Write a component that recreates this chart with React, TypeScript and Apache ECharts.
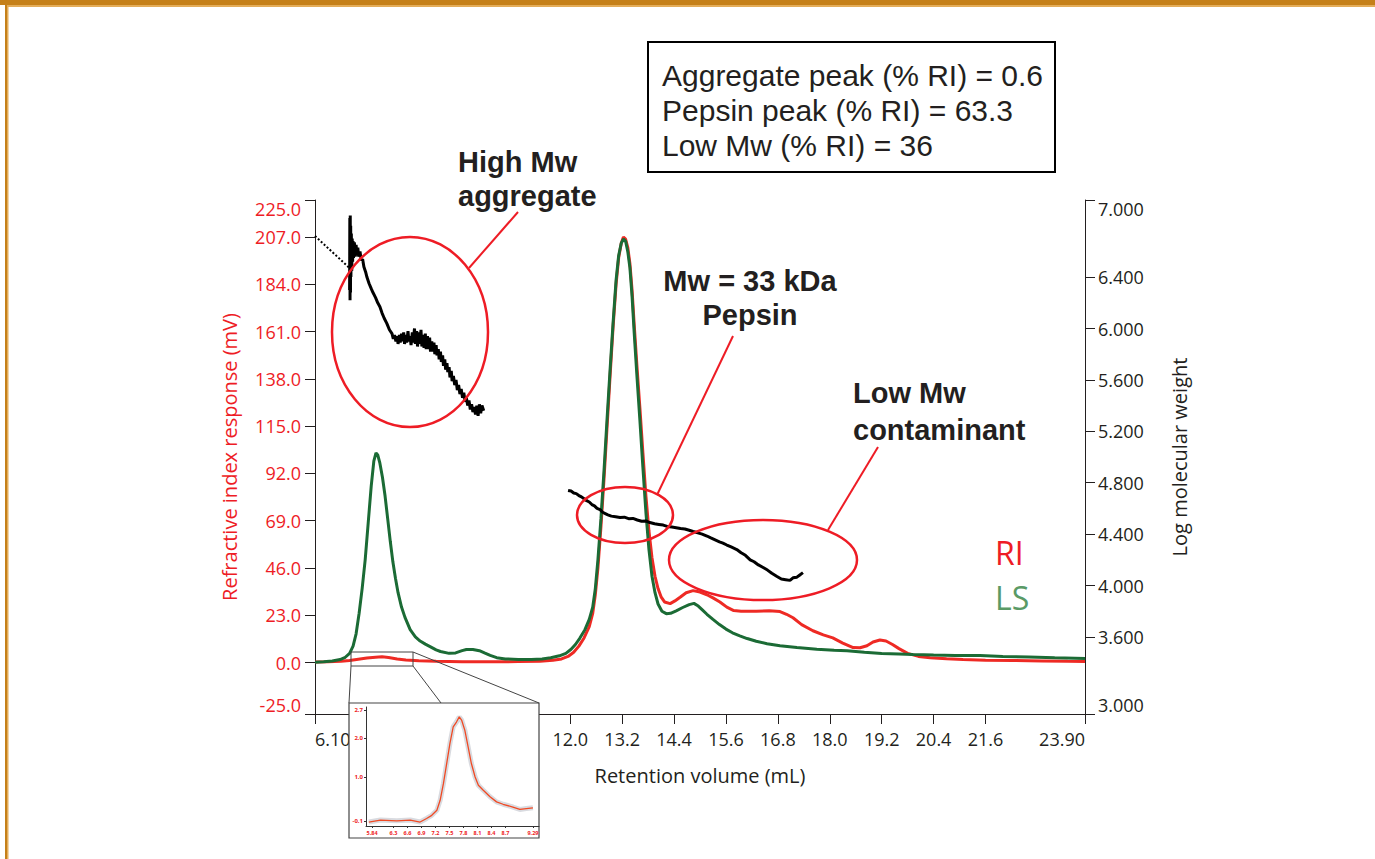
import React, { useEffect, useRef } from "react";
import * as echarts from "echarts";

// ---------- axis ticks ----------
const xTickValues = [6.1, 7.2, 8.4, 9.6, 10.8, 12.0, 13.2, 14.4, 15.6, 16.8, 18.0, 19.2, 20.4, 21.6, 23.9];
// labels 7.2 – 10.8 sit behind the inset in the original, so only the visible ones are written
const xLabelValues = [6.1, 12.0, 13.2, 14.4, 15.6, 16.8, 18.0, 19.2, 20.4, 21.6, 23.9];
const riTickValues = [-25, 0, 23, 46, 69, 92, 115, 138, 161, 184, 207, 225];
const mwTickValues = [3.0, 3.6, 4.0, 4.4, 4.8, 5.2, 5.6, 6.0, 6.4, 7.0];
const insetXTicks = [5.84, 6.0, 6.3, 6.6, 6.9, 7.2, 7.5, 7.8, 8.1, 8.4, 8.7, 9.29];
const insetYTicks = [-0.1, 1.0, 2.0, 2.7];

// ---------- series: [retention volume (mL), RI response (mV)] ----------
const riData = [
  [6.10, 0.3], [6.40, 0.4], [6.70, 0.6], [6.90, 1.0], [7.10, 1.6], [7.30, 2.2], [7.50, 2.6], [7.65, 2.8], [7.80, 2.5],
  [8.00, 1.8], [8.20, 1.3], [8.50, 0.9], [8.90, 0.6], [9.50, 0.4], [10.20, 0.4], [10.80, 0.5], [11.30, 0.7], [11.60, 1.1],
  [11.80, 1.8], [11.95, 3], [12.08, 5], [12.20, 8], [12.32, 12], [12.44, 17.5], [12.52, 24], [12.58, 33], [12.64, 46],
  [12.71, 66], [12.78, 89], [12.85, 114], [12.92, 139], [12.99, 163], [13.06, 184], [13.12, 197], [13.18, 204], [13.23, 207],
  [13.28, 206], [13.33, 202], [13.38, 194], [13.43, 181], [13.48, 164], [13.54, 145], [13.61, 124], [13.68, 102], [13.75, 81],
  [13.82, 64], [13.89, 51], [13.96, 42], [14.03, 36], [14.10, 32], [14.18, 29.5], [14.31, 28.7], [14.42, 30], [14.54, 31.8],
  [14.68, 34], [14.84, 35], [15.00, 34.3], [15.16, 33], [15.30, 31.5], [15.46, 29.5], [15.62, 27], [15.78, 25.3], [15.95, 25],
  [16.30, 25], [16.60, 25.2], [16.85, 24.8], [17.00, 23.5], [17.15, 21.8], [17.35, 18.5], [17.61, 15.5], [17.85, 13.5],
  [18.07, 12], [18.30, 9.5], [18.54, 7.3], [18.70, 7.2], [18.86, 8.2], [19.00, 10], [19.16, 11], [19.30, 10.5], [19.45, 8.8],
  [19.60, 6.8], [19.80, 4.5], [20.05, 3], [20.32, 2.4], [20.70, 1.9], [21.08, 1.5], [21.60, 1.2], [22.23, 1.0], [22.90, 0.8],
  [23.50, 0.6], [23.90, 0.5],
];

// [retention volume (mL), LS response (mV)]
const lsData = [
  [6.10, 0.2], [6.30, 0.4], [6.50, 0.8], [6.68, 1.5], [6.80, 2.6], [6.90, 4.5], [6.98, 8], [7.05, 14], [7.12, 24], [7.19, 36],
  [7.26, 50], [7.33, 68], [7.40, 86], [7.46, 98], [7.51, 102], [7.55, 101], [7.60, 97], [7.66, 90], [7.72, 81], [7.78, 70],
  [7.84, 59], [7.90, 49], [7.96, 41], [8.02, 34], [8.10, 27], [8.18, 22], [8.30, 16], [8.42, 12.5], [8.53, 10.5], [8.65, 9],
  [8.76, 7.8], [8.90, 6.2], [9.00, 5.4], [9.20, 4.5], [9.35, 4.7], [9.50, 5.8], [9.60, 6.4], [9.75, 6.4], [9.90, 5.8],
  [10.03, 4.6], [10.15, 3.5], [10.30, 2.4], [10.50, 1.8], [10.80, 1.5], [11.10, 1.5], [11.35, 1.8], [11.55, 2.4], [11.75, 3.3],
  [11.90, 4.5], [12.02, 6.5], [12.12, 8.8], [12.22, 11.8], [12.34, 16], [12.44, 21], [12.52, 27], [12.58, 36], [12.64, 50],
  [12.71, 70], [12.78, 93], [12.85, 118], [12.92, 142], [12.99, 165], [13.06, 186], [13.12, 198], [13.18, 204], [13.23, 206],
  [13.28, 205], [13.33, 200], [13.38, 192], [13.43, 178], [13.48, 160], [13.54, 140], [13.61, 118], [13.68, 95], [13.75, 73],
  [13.82, 55], [13.89, 42], [13.96, 34], [14.03, 28.5], [14.12, 25], [14.22, 23.8], [14.32, 24], [14.45, 25.2], [14.60, 26.8],
  [14.75, 28.2], [14.86, 28.8], [14.96, 27.5], [15.06, 25.5], [15.16, 23.5], [15.30, 21], [15.45, 18.5], [15.60, 16.3],
  [15.75, 14.5], [15.92, 13], [16.09, 11.7], [16.30, 10.4], [16.55, 9.2], [16.85, 8.2], [17.24, 7.3], [17.70, 6.5], [18.10, 6],
  [18.40, 5.8], [18.80, 5.0], [19.20, 4.4], [19.60, 4.2], [19.92, 3.9], [20.40, 3.7], [20.90, 3.5], [21.47, 3.4], [22.00, 3.0],
  [22.60, 2.7], [23.20, 2.3], [23.90, 2.0],
];

// [retention volume (mL), log molecular weight] — high Mw aggregate region
const mwAggregate = [
  [6.90, 6.30], [6.905, 6.86], [6.91, 6.22], [6.915, 6.88], [6.92, 6.28], [6.925, 6.80], [6.93, 6.40], [6.94, 6.74],
  [6.95, 6.45], [6.96, 6.70], [6.97, 6.52], [6.98, 6.68], [6.99, 6.55], [7.01, 6.67], [7.03, 6.56], [7.05, 6.65], [7.07, 6.57],
  [7.09, 6.63], [7.11, 6.56], [7.14, 6.60], [7.17, 6.53], [7.20, 6.54], [7.23, 6.48], [7.27, 6.44], [7.30, 6.40], [7.35, 6.35],
  [7.40, 6.31], [7.44, 6.28], [7.50, 6.24], [7.55, 6.20], [7.60, 6.17], [7.65, 6.12], [7.70, 6.08], [7.76, 6.04], [7.82, 5.99],
  [7.88, 5.96], [7.91, 5.92], [7.94, 5.95], [7.97, 5.90], [8.00, 5.94], [8.02, 5.88], [8.05, 5.95], [8.07, 5.89], [8.10, 5.96],
  [8.12, 5.90], [8.15, 5.97], [8.17, 5.88], [8.20, 5.95], [8.22, 5.89], [8.25, 5.98], [8.27, 5.90], [8.30, 5.94], [8.32, 5.87],
  [8.35, 5.97], [8.37, 5.89], [8.40, 6.00], [8.42, 5.88], [8.45, 5.98], [8.47, 5.86], [8.50, 5.97], [8.52, 5.88], [8.55, 5.99],
  [8.57, 5.86], [8.60, 5.95], [8.62, 5.85], [8.65, 5.96], [8.67, 5.84], [8.70, 5.94], [8.72, 5.84], [8.75, 5.93], [8.77, 5.82],
  [8.80, 5.90], [8.82, 5.82], [8.85, 5.89], [8.87, 5.80], [8.90, 5.87], [8.92, 5.79], [8.95, 5.84], [8.97, 5.76], [9.00, 5.82],
  [9.02, 5.74], [9.05, 5.79], [9.07, 5.71], [9.10, 5.76], [9.12, 5.68], [9.15, 5.73], [9.17, 5.66], [9.20, 5.70], [9.22, 5.62],
  [9.25, 5.67], [9.27, 5.59], [9.30, 5.63], [9.33, 5.56], [9.36, 5.60], [9.39, 5.52], [9.42, 5.56], [9.45, 5.49], [9.48, 5.53],
  [9.51, 5.46], [9.54, 5.50], [9.57, 5.43], [9.60, 5.46], [9.63, 5.40], [9.66, 5.44], [9.69, 5.37], [9.72, 5.41], [9.75, 5.35],
  [9.78, 5.39], [9.81, 5.33], [9.84, 5.40], [9.87, 5.32], [9.90, 5.41], [9.93, 5.34], [9.96, 5.40], [10.00, 5.36],
];

// dotted connector from the axis to the aggregate trace
const mwDotted = [[6.1, 6.72], [6.90, 6.47]];

// [retention volume (mL), log molecular weight] — pepsin and low Mw region
const mwPepsin = [
  [11.95, 4.74], [12.02, 4.735], [12.08, 4.72], [12.14, 4.715], [12.20, 4.70], [12.26, 4.69], [12.32, 4.675], [12.38, 4.66],
  [12.44, 4.65], [12.50, 4.63], [12.56, 4.62], [12.62, 4.60], [12.69, 4.59], [12.75, 4.57], [12.81, 4.56], [12.87, 4.55],
  [12.95, 4.54], [13.05, 4.535], [13.15, 4.53], [13.25, 4.532], [13.35, 4.52], [13.45, 4.522], [13.55, 4.51], [13.65, 4.50],
  [13.75, 4.502], [13.84, 4.49], [13.95, 4.48], [14.05, 4.475], [14.15, 4.47], [14.24, 4.46], [14.35, 4.455], [14.45, 4.45],
  [14.55, 4.443], [14.65, 4.44], [14.75, 4.43], [14.84, 4.42], [14.95, 4.41], [15.05, 4.40], [15.16, 4.385], [15.25, 4.37],
  [15.35, 4.355], [15.45, 4.34], [15.53, 4.33], [15.62, 4.315], [15.72, 4.30], [15.85, 4.28], [15.95, 4.255], [16.05, 4.235],
  [16.16, 4.20], [16.25, 4.185], [16.35, 4.16], [16.46, 4.14], [16.56, 4.12], [16.66, 4.095], [16.78, 4.07], [16.88, 4.05],
  [16.98, 4.045], [17.08, 4.04], [17.15, 4.06], [17.24, 4.065], [17.30, 4.08], [17.38, 4.10],
];

// inset: [retention volume (mL), RI response (mV)] zoom of the aggregate peak
const insetData = [
  [5.77, -0.13], [6.02, -0.08], [6.37, -0.10], [6.66, -0.08], [6.87, -0.13], [7.01, -0.04], [7.12, 0.04], [7.23, 0.17],
  [7.30, 0.42], [7.37, 0.84], [7.44, 1.35], [7.51, 1.86], [7.58, 2.28], [7.65, 2.40], [7.71, 2.53], [7.76, 2.45], [7.83, 2.19],
  [7.90, 1.77], [7.97, 1.35], [8.05, 1.01], [8.12, 0.80], [8.22, 0.68], [8.37, 0.51], [8.51, 0.38], [8.65, 0.32], [8.86, 0.25],
  [9.01, 0.19], [9.15, 0.21], [9.29, 0.23],
];

const summaryLines = ["Aggregate peak (% RI) = 0.6", "Pepsin peak (% RI) = 63.3", "Low Mw (% RI) = 36"];

const FONT = "'Open Sans', 'Noto Sans', sans-serif";
const NOTE_FONT = "'Liberation Sans', Arial, sans-serif";
const RED = "#ee1c25";
const INK = "#231f20";

const near = (a: number, b: number) => Math.abs(a - b) < 1e-6;

const boldText = (text: string, x: number, y: number, align: string) => ({
  type: "text", z: 50, x, y,
  style: { text, fill: INK, fontSize: 29, fontWeight: "bold", fontFamily: NOTE_FONT, align, verticalAlign: "middle" },
});

export default function App() {
  const ref = useRef<HTMLDivElement>(null);
  useEffect(() => {
    if (!ref.current) return;
    const chart = echarts.init(ref.current, null, { renderer: "svg" });
    const option: any = {
      animation: false,
      backgroundColor: "#ffffff",
      grid: [
        { left: 315, top: 200, width: 770, height: 514 },
        { left: 366, top: 707, width: 173, height: 119, z: 101 },
      ],
      xAxis: [
        {
          type: "value", gridIndex: 0, min: 6.1, max: 23.9,
          axisLine: { show: true, onZero: false, lineStyle: { color: INK, width: 1 } },
          axisTick: { show: true, length: 10, customValues: xTickValues, lineStyle: { color: INK } },
          axisLabel: {
            customValues: xLabelValues, margin: 16, fontSize: 18, fontFamily: FONT, color: INK,
            showMinLabel: true, showMaxLabel: true, hideOverlap: false,
            alignMinLabel: "left", alignMaxLabel: "right",
            formatter: (v: number) => (near(v, 6.1) ? "6.10" : near(v, 23.9) ? "23.90" : v.toFixed(1)),
          },
          splitLine: { show: false },
          name: "Retention volume (mL)", nameLocation: "middle", nameGap: 51,
          nameTextStyle: { fontSize: 20, fontFamily: FONT, color: INK },
        },
        {
          type: "value", gridIndex: 1, min: 5.71, max: 9.42, z: 102,
          axisLine: { show: true, onZero: false, lineStyle: { color: "#333", width: 1 } },
          axisTick: { show: true, length: 2, customValues: insetXTicks, lineStyle: { color: "#333" } },
          axisLabel: {
            customValues: insetXTicks, margin: 4, fontSize: 5.5, fontWeight: "bold", fontFamily: FONT, color: RED,
            showMinLabel: true, showMaxLabel: true, hideOverlap: false,
            formatter: (v: number) => (near(v, 5.84) || near(v, 9.29) ? v.toFixed(2) : v.toFixed(1)),
          },
          splitLine: { show: false },
        },
      ],
      yAxis: [
        {
          type: "value", gridIndex: 0, position: "left", min: -25, max: 225,
          axisLine: { show: true, onZero: false, lineStyle: { color: INK, width: 1 } },
          axisTick: { show: true, length: 10, customValues: riTickValues, lineStyle: { color: INK } },
          axisLabel: {
            customValues: riTickValues, margin: 14, fontSize: 18, fontFamily: FONT, color: RED,
            showMinLabel: true, showMaxLabel: true, hideOverlap: false,
            verticalAlignMinLabel: "bottom", verticalAlignMaxLabel: "top",
            formatter: (v: number) => v.toFixed(1),
          },
          splitLine: { show: false },
          name: "Refractive index response (mV)", nameLocation: "middle", nameGap: 76,
          nameTextStyle: { fontSize: 20, fontFamily: FONT, color: RED },
        },
        {
          type: "value", gridIndex: 0, position: "right", min: 3, max: 7,
          axisLine: { show: true, onZero: false, lineStyle: { color: INK, width: 1 } },
          axisTick: { show: true, length: 10, customValues: mwTickValues, lineStyle: { color: INK } },
          axisLabel: {
            customValues: mwTickValues, margin: 13, fontSize: 18, fontFamily: FONT, color: INK,
            showMinLabel: true, showMaxLabel: true, hideOverlap: false,
            verticalAlignMinLabel: "bottom", verticalAlignMaxLabel: "top",
            formatter: (v: number) => v.toFixed(3),
          },
          splitLine: { show: false },
          name: "Log molecular weight", nameLocation: "middle", nameGap: 84,
          nameTextStyle: { fontSize: 20, fontFamily: FONT, color: INK },
        },
        {
          type: "value", gridIndex: 1, min: -0.23, max: 2.78, z: 102,
          axisLine: { show: true, onZero: false, lineStyle: { color: "#333", width: 1 } },
          axisTick: { show: true, length: 2, customValues: insetYTicks, lineStyle: { color: "#333" } },
          axisLabel: {
            customValues: insetYTicks, margin: 3, fontSize: 6, fontWeight: "bold", fontFamily: FONT, color: RED,
            showMinLabel: true, showMaxLabel: true, hideOverlap: false,
            formatter: (v: number) => v.toFixed(1),
          },
          splitLine: { show: false },
        },
      ],
      series: [
        {
          name: "RI", type: "line", xAxisIndex: 0, yAxisIndex: 0, data: riData, showSymbol: false, z: 3,
          lineStyle: { color: "#ee2a24", width: 3 }, itemStyle: { color: "#ee2a24" },
        },
        {
          name: "LS", type: "line", xAxisIndex: 0, yAxisIndex: 0, data: lsData, showSymbol: false, z: 4,
          lineStyle: { color: "#1b6b35", width: 3 }, itemStyle: { color: "#1b6b35" },
        },
        {
          name: "Mw aggregate", type: "line", xAxisIndex: 0, yAxisIndex: 1, data: mwAggregate, showSymbol: false, z: 5,
          lineStyle: { color: "#000", width: 3 },
        },
        {
          name: "Mw connector", type: "line", xAxisIndex: 0, yAxisIndex: 1, data: mwDotted, showSymbol: false, z: 5,
          lineStyle: { color: "#000", width: 2, type: "dotted" },
        },
        {
          name: "Mw pepsin", type: "line", xAxisIndex: 0, yAxisIndex: 1, data: mwPepsin, showSymbol: false, z: 5,
          lineStyle: { color: "#000", width: 3 },
        },
        {
          name: "inset halo", type: "line", xAxisIndex: 1, yAxisIndex: 2, data: insetData, showSymbol: false, z: 103,
          lineStyle: { color: "#d9dbe0", width: 5 },
        },
        {
          name: "inset RI", type: "line", xAxisIndex: 1, yAxisIndex: 2, data: insetData, showSymbol: false, z: 104,
          lineStyle: { color: "#f04a24", width: 1.3 },
        },
      ],
      graphic: [
        // frame
        { type: "rect", z: 200, shape: { x: 0, y: 0, width: 1375, height: 5 }, style: { fill: "#c5801a" } },
        { type: "rect", z: 200, shape: { x: 5, y: 5, width: 1370, height: 2 }, style: { fill: "#e4ad5a" } },
        { type: "rect", z: 200, shape: { x: 5, y: 5, width: 2, height: 854 }, style: { fill: "#c5801a" } },
        { type: "rect", z: 200, shape: { x: 7, y: 7, width: 1.5, height: 852 }, style: { fill: "#e4ad5a" } },
        // inset frame and zoom connectors
        { type: "rect", z: 100, shape: { x: 349, y: 703, width: 190, height: 135 }, style: { fill: "#ffffff", stroke: "#444", lineWidth: 1.2 } },
        { type: "rect", z: 100, shape: { x: 351, y: 652, width: 62, height: 14 }, style: { fill: "none", stroke: "#444", lineWidth: 1 } },
        { type: "line", z: 100, shape: { x1: 351, y1: 666, x2: 349, y2: 703 }, style: { stroke: "#444", lineWidth: 1 } },
        { type: "line", z: 100, shape: { x1: 413, y1: 666, x2: 441, y2: 703 }, style: { stroke: "#444", lineWidth: 1 } },
        { type: "line", z: 100, shape: { x1: 413, y1: 652, x2: 539, y2: 703 }, style: { stroke: "#444", lineWidth: 1 } },
        // annotation ellipses and pointers
        { type: "ellipse", z: 50, shape: { cx: 410, cy: 332, rx: 78, ry: 95 }, style: { fill: "none", stroke: "#ee1c25", lineWidth: 2.5 } },
        { type: "ellipse", z: 50, shape: { cx: 625, cy: 515, rx: 48, ry: 28 }, style: { fill: "none", stroke: "#ee1c25", lineWidth: 2.5 } },
        { type: "ellipse", z: 50, shape: { cx: 763, cy: 560, rx: 94, ry: 40 }, style: { fill: "none", stroke: "#ee1c25", lineWidth: 2.5 } },
        { type: "line", z: 50, shape: { x1: 469, y1: 268, x2: 518, y2: 212 }, style: { stroke: "#ee1c25", lineWidth: 2 } },
        { type: "line", z: 50, shape: { x1: 657, y1: 495, x2: 733, y2: 336 }, style: { stroke: "#ee1c25", lineWidth: 2 } },
        { type: "line", z: 50, shape: { x1: 828, y1: 530, x2: 878, y2: 447 }, style: { stroke: "#ee1c25", lineWidth: 2 } },
        // annotation texts
        boldText("High Mw", 458, 162, "left"),
        boldText("aggregate", 458, 196, "left"),
        boldText("Mw = 33 kDa", 750, 281, "center"),
        boldText("Pepsin", 750, 315, "center"),
        boldText("Low Mw", 853, 393, "left"),
        boldText("contaminant", 853, 430, "left"),
        // summary box
        { type: "rect", z: 50, shape: { x: 648, y: 42, width: 407, height: 130 }, style: { fill: "#fff", stroke: "#000", lineWidth: 2 } },
        ...summaryLines.map((t, i) => ({
          type: "text", z: 51, x: 662, y: 75 + i * 35,
          style: { text: t, fill: INK, fontSize: 30, fontFamily: NOTE_FONT, align: "left", verticalAlign: "middle" },
        })),
        // legend
        { type: "text", z: 50, x: 995, y: 552, style: { text: "RI", fill: RED, fontSize: 32, fontFamily: FONT, align: "left", verticalAlign: "middle" } },
        { type: "text", z: 50, x: 995, y: 597, style: { text: "LS", fill: "#5a9a66", fontSize: 32, fontFamily: FONT, align: "left", verticalAlign: "middle" } },
      ],
    };
    chart.setOption(option);
    return () => chart.dispose();
  }, []);
  return (
    <div
      ref={ref}
      style={{ position: "fixed", left: 0, top: 0, width: 1375, height: 859, background: "#fff" }}
    />
  );
}
